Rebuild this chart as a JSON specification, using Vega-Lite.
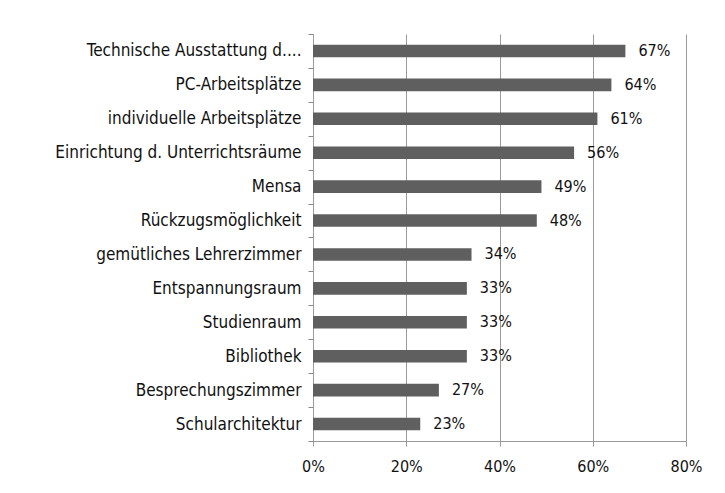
{
  "$schema": "https://vega.github.io/schema/vega-lite/v6.json",
  "width": 373,
  "height": 407,
  "autosize": {"type": "none"},
  "padding": {"left": 313, "top": 34, "right": 39, "bottom": 52},
  "background": "white",
  "config": {
    "view": {"stroke": null},
    "font": "DejaVu Sans Condensed"
  },
  "data": {
    "values": [
      {"item": "Technische Ausstattung d....", "value": 0.67},
      {"item": "PC-Arbeitsplätze", "value": 0.64},
      {"item": "individuelle Arbeitsplätze", "value": 0.61},
      {"item": "Einrichtung d. Unterrichtsräume", "value": 0.56},
      {"item": "Mensa", "value": 0.49},
      {"item": "Rückzugsmöglichkeit", "value": 0.48},
      {"item": "gemütliches Lehrerzimmer", "value": 0.34},
      {"item": "Entspannungsraum", "value": 0.33},
      {"item": "Studienraum", "value": 0.33},
      {"item": "Bibliothek", "value": 0.33},
      {"item": "Besprechungszimmer", "value": 0.27},
      {"item": "Schularchitektur", "value": 0.23}
    ]
  },
  "encoding": {
    "y": {
      "field": "item", "type": "nominal", "sort": null,
      "scale": {"paddingInner": 0, "paddingOuter": 0},
      "axis": {
        "title": null, "domainColor": "#9a9a9a", "ticks": true, "tickColor": "#888888",
        "tickSize": 5, "tickBand": "extent",
        "labelFontSize": 17, "labelColor": "#111111", "labelPadding": 7,
        "labelLimit": 300
      }
    },
    "x": {
      "field": "value", "type": "quantitative",
      "scale": {"domain": [0, 0.8], "nice": false},
      "axis": {
        "title": null, "format": ".0%", "values": [0, 0.2, 0.4, 0.6, 0.8],
        "domainColor": "#9a9a9a", "tickColor": "#9a9a9a", "tickSize": 5,
        "gridColor": "#9a9a9a", "labelFontSize": 16, "labelColor": "#111111",
        "labelPadding": 12, "labelFlush": false
      }
    }
  },
  "layer": [
    {"mark": {"type": "bar", "color": "#5f5f5f", "height": {"band": 0.37}}},
    {
      "mark": {"type": "text", "align": "left", "dx": 13, "fontSize": 16, "color": "#111111"},
      "encoding": {"text": {"field": "value", "type": "quantitative", "format": ".0%"}}
    }
  ]
}
